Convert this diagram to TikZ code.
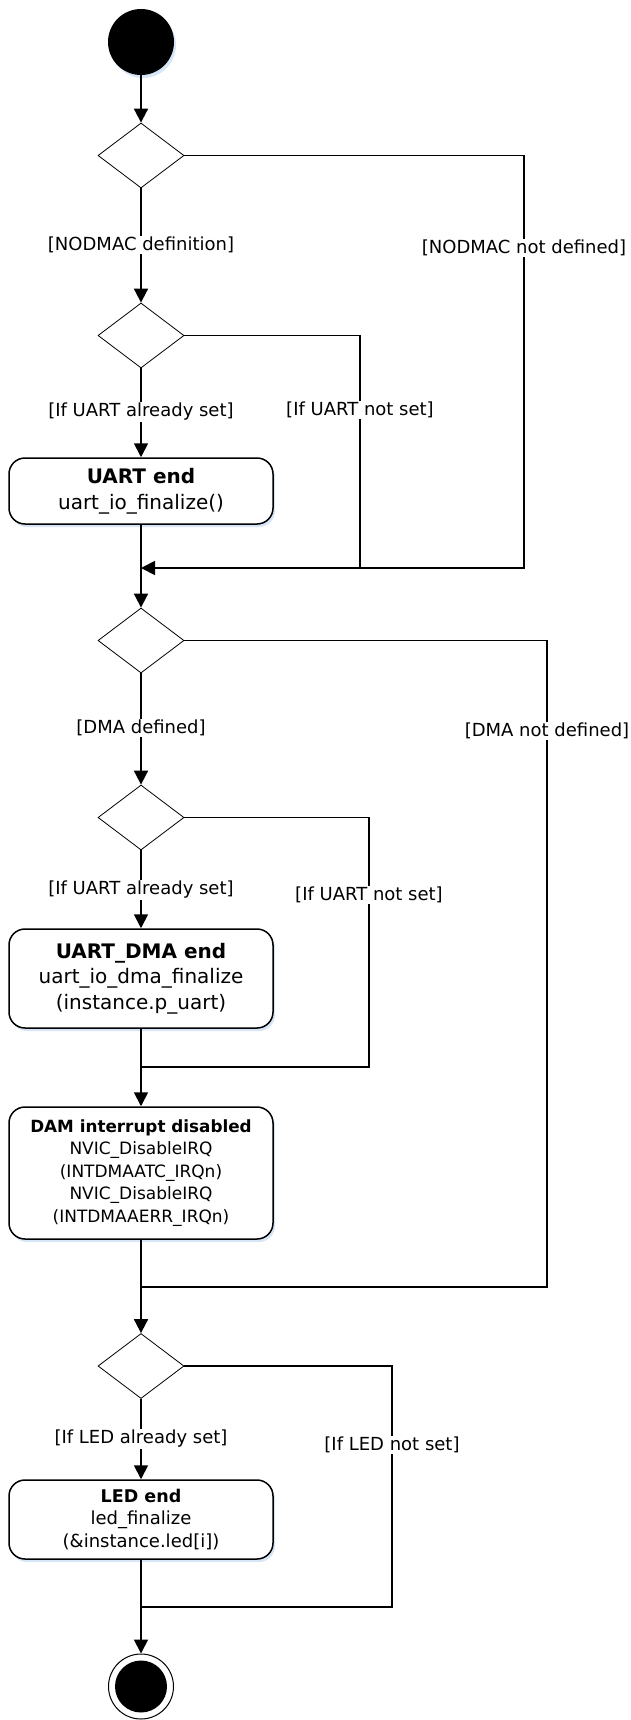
\documentclass[tikz,border=0pt]{standalone}
\usepackage{fontspec}
\setmainfont{DejaVu Sans}
\usetikzlibrary{shapes.geometric,arrows.meta,shadows}
\definecolor{shadowblue}{RGB}{214,230,246}

\begin{document}
\begin{tikzpicture}[x=1pt,y=-1pt,
  startdot/.style={circle,fill=black,minimum size=66pt,inner sep=0pt,
    drop shadow={shadow xshift=2pt,shadow yshift=-3pt,fill=shadowblue,opacity=1}},
  stopdot/.style={circle,draw,line width=1pt,fill=white,minimum size=65pt,inner sep=0pt},
  decision/.style={diamond,draw,line width=0.8pt,fill=white,minimum width=86pt,minimum height=65pt,inner sep=0pt},
  action/.style={rectangle,rounded corners=16pt,draw,line width=1.5pt,fill=white,minimum width=264pt,align=center,inner sep=0pt,
    drop shadow={shadow xshift=2pt,shadow yshift=-3pt,fill=shadowblue,opacity=1}},
  guard/.style={fill=white,inner sep=1pt,font=\fontsize{18}{22}\selectfont},
  wire/.style={line width=1.8pt},
  flow/.style={wire,-{Triangle[width=14pt,length=14pt]}}]

\useasboundingbox (0,0) rectangle (630,1720);

\node[startdot] (init) at (141,42) {};
\node[decision] (d1) at (141,155.5) {};
\node[decision] (d2) at (141,335.5) {};
\node[action,minimum height=66pt,font=\fontsize{20}{26}\selectfont] (uart) at (141,491) {\textbf{UART end}\\uart\_io\_finalize()};
\coordinate (j1) at (141,568);
\coordinate (r1) at (524,568);
\coordinate (r2) at (360,568);

\node[decision] (d3) at (141,640.5) {};
\node[decision] (d4) at (141,817.5) {};
\node[action,minimum height=99pt,font=\fontsize{20}{25.5}\selectfont] (uartdma) at (141,978.5) {\textbf{UART\_DMA end}\\uart\_io\_dma\_finalize\\(instance.p\_uart)};
\coordinate (j2) at (141,1067);
\coordinate (r4) at (369,1067);
\node[action,minimum height=132pt,font=\fontsize{17}{22.4}\selectfont] (dmaoff) at (141,1173) {{\fontsize{16.8}{22.4}\selectfont\textbf{DAM interrupt disabled}}\\NVIC\_DisableIRQ\\(INTDMAATC\_IRQn)\\NVIC\_DisableIRQ\\(INTDMAAERR\_IRQn)};
\coordinate (j3) at (141,1287);
\coordinate (r3) at (547,1287);

\node[decision] (d5) at (141,1366) {};
\node[action,minimum height=79pt,font=\fontsize{18}{22.5}\selectfont] (led) at (141,1519.5) {{\fontsize{17.5}{22.5}\selectfont\textbf{LED end}}\\led\_finalize\\(\&instance.led[i])};
\coordinate (j4) at (141,1607);
\coordinate (r5) at (392,1607);
\node[stopdot] (final) at (141,1686.5) {};
\fill (final.center) circle[radius=26pt];

\draw[flow] (init) -- (d1);
\draw[flow] (d1) -- (d2);
\draw[flow] (d2) -- (uart);
\draw[wire] (uart) -- (j1);
\draw[flow] (d1.east) -| (r1) -- (j1);
\draw[wire] (d2.east) -| (r2);
\draw[flow] (j1) -- (d3);

\draw[flow] (d3) -- (d4);
\draw[flow] (d4) -- (uartdma);
\draw[wire] (uartdma) -- (j2);
\draw[wire] (d4.east) -| (r4) -- (j2);
\draw[flow] (j2) -- (dmaoff);
\draw[wire] (dmaoff) -- (j3);
\draw[wire] (d3.east) -| (r3) -- (j3);
\draw[flow] (j3) -- (d5);

\draw[flow] (d5) -- (led);
\draw[wire] (led) -- (j4);
\draw[wire] (d5.east) -| (r5) -- (j4);
\draw[flow] (j4) -- (final);

\node[guard] (g1) at (141,245) {[NODMAC definition]};
\node[guard] (g2) at (524,248) {[NODMAC not defined]};
\node[guard] (g3) at (141,412) {[If UART already set]};
\node[guard] (g4) at (360,410) {[If UART not set]};
\node[guard] (g5) at (141,728) {[DMA defined]};
\node[guard] (g6) at (547,731) {[DMA not defined]};
\node[guard] (g7) at (141,890) {[If UART already set]};
\node[guard] (g8) at (369,895) {[If UART not set]};
\node[guard] (g9) at (141,1439) {[If LED already set]};
\node[guard] (g10) at (392,1445) {[If LED not set]};

\end{tikzpicture}
\end{document}
